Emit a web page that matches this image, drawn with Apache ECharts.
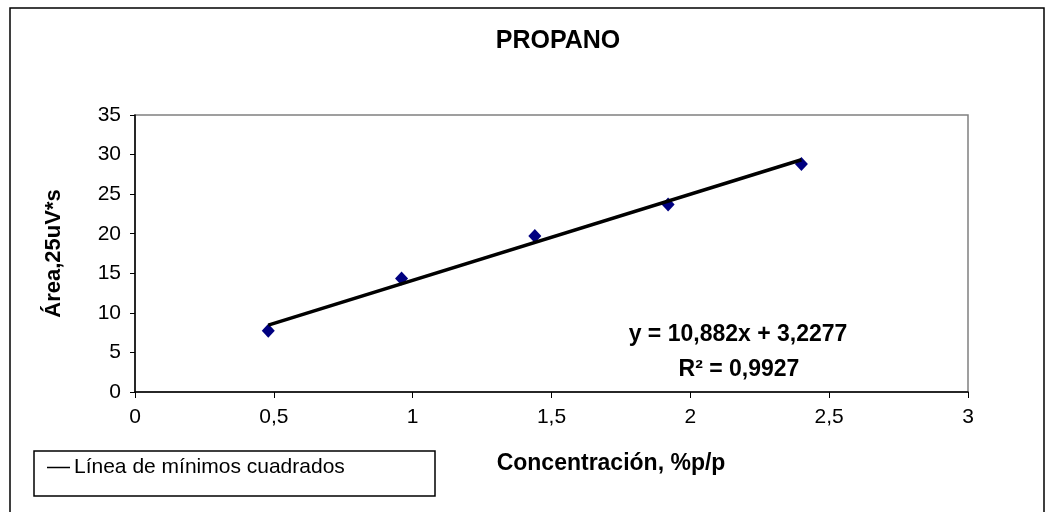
<!DOCTYPE html>
<html>
<head>
<meta charset="utf-8">
<script src="https://cdn.jsdelivr.net/npm/echarts@6/dist/echarts.min.js"></script>
<style>
  html, body { margin: 0; padding: 0; background: #fff; }
  #chart { width: 1047px; height: 512px; }
</style>
</head>
<body>
<div id="chart"></div>
<script>
// datos
var concentracion = [0.48, 0.96, 1.44, 1.92, 2.4];
var area = [7.75, 14.35, 19.7, 23.7, 28.8];
// extremos de la recta de mínimos cuadrados (y = 10,882x + 3,2277)
var rectaX = [0.48, 2.4];
var rectaY = [8.45, 29.35];
var ecuacion = ['y = 10,882x + 3,2277', 'R\u00b2 = 0,9927'];

var fuente = 'Liberation Sans, Arial, sans-serif';

var chart = echarts.init(document.getElementById('chart'));

var puntos = concentracion.map(function (x, i) { return [x, area[i]]; });
var recta = rectaX.map(function (x, i) { return [x, rectaY[i]]; });

var option = {
  backgroundColor: '#fff',
  animation: false,
  title: {
    text: 'PROPANO',
    left: 553,
    textAlign: 'center',
    top: 24,
    textStyle: { fontFamily: fuente, fontSize: 25, fontWeight: 'bold', color: '#000' }
  },
  legend: {
    left: 42,
    top: 452,
    itemWidth: 23,
    itemHeight: 1.5,
    data: [{ name: 'Línea de mínimos cuadrados', icon: 'rect' }],
    textStyle: { fontFamily: fuente, fontSize: 21, color: '#000', padding: [0, 0, 0, -1] }
  },
  grid: {
    left: 135,
    right: 79,
    top: 115,
    bottom: 120,
    show: true,
    borderColor: '#808080',
    borderWidth: 1.5,
    backgroundColor: '#fff'
  },
  xAxis: {
    type: 'value',
    min: 0,
    max: 3,
    interval: 0.5,
    splitLine: { show: false },
    axisLine: { lineStyle: { color: '#000', width: 1.5 } },
    axisTick: { show: true, length: 6, lineStyle: { color: '#000' } },
    axisLabel: {
      margin: 15,
      fontFamily: fuente,
      fontSize: 21,
      color: '#000',
      formatter: function (v) { return String(v).replace('.', ','); }
    }
  },
  yAxis: {
    type: 'value',
    min: 0,
    max: 35,
    interval: 5,
    name: 'Área,25uV*s',
    nameLocation: 'middle',
    nameRotate: 90,
    nameGap: 70,
    nameTextStyle: { fontFamily: fuente, fontSize: 22, fontWeight: 'bold', color: '#000' },
    splitLine: { show: false },
    axisLine: { show: true, lineStyle: { color: '#000', width: 1.5 } },
    axisTick: { show: true, length: 5, lineStyle: { color: '#000' } },
    axisLabel: { margin: 14, fontFamily: fuente, fontSize: 21, color: '#000' }
  },
  series: [
    {
      name: 'Línea de mínimos cuadrados',
      type: 'line',
      data: recta,
      symbol: 'none',
      lineStyle: { color: '#000', width: 3.5 },
      itemStyle: { color: '#000' },
      z: 3
    },
    {
      name: 'Área',
      type: 'scatter',
      data: puntos,
      symbol: 'diamond',
      symbolSize: [13, 14],
      itemStyle: { color: '#000080', opacity: 1 },
      z: 2
    }
  ],
  graphic: [
    {
      type: 'rect',
      silent: true,
      shape: { x: 10, y: 8, width: 1034, height: 520 },
      style: { fill: null, stroke: '#000', lineWidth: 1.5 },
      z: -10
    },
    {
      type: 'rect',
      silent: true,
      shape: { x: 34, y: 451, width: 401, height: 45 },
      style: { fill: null, stroke: '#000', lineWidth: 1.5 }
    },
    {
      type: 'text',
      x: 611,
      y: 464,
      style: {
        text: 'Concentración, %p/p',
        fontFamily: fuente, fontSize: 23, fontWeight: 'bold', fill: '#000',
        textAlign: 'center', textVerticalAlign: 'middle'
      }
    },
    {
      type: 'text',
      x: 738,
      y: 335,
      style: {
        text: ecuacion[0],
        fontFamily: fuente, fontSize: 23, fontWeight: 'bold', fill: '#000',
        textAlign: 'center', textVerticalAlign: 'middle'
      }
    },
    {
      type: 'text',
      x: 739,
      y: 370,
      style: {
        text: ecuacion[1],
        fontFamily: fuente, fontSize: 23, fontWeight: 'bold', fill: '#000',
        textAlign: 'center', textVerticalAlign: 'middle'
      }
    }
  ]
};

chart.setOption(option);
</script>
</body>
</html>
